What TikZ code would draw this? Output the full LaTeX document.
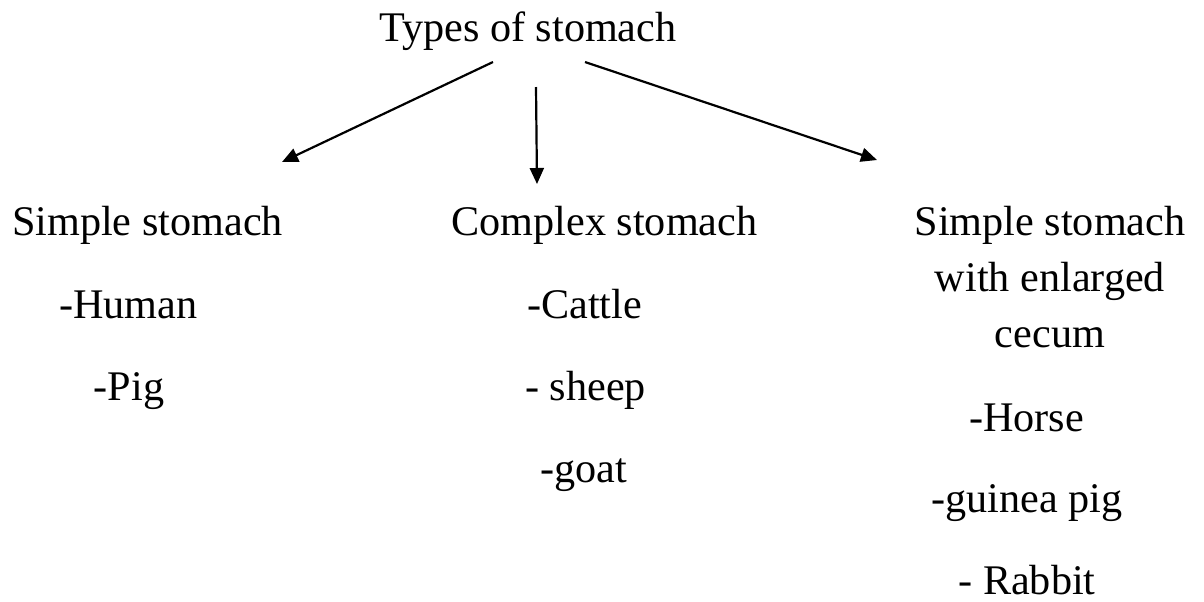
\documentclass[tikz,border=0pt]{standalone}
\usepackage{fontspec}
\setmainfont{Liberation Serif}
\usepackage{tikz}
\usetikzlibrary{positioning,arrows.meta}

\begin{document}
\begin{tikzpicture}[x=0.5pt,y=-0.5pt]
\tikzstyle{every node} = [inner sep = 0pt, anchor = base, font=\fontsize{21.1pt}{28pt}\selectfont];
\tikzstyle{arr} = [line width = 1.1pt, -{Triangle[length=8pt,width=7pt]}];
\useasboundingbox (0,0) rectangle (1204,601);
\node (T) at (528,41) {Types of stomach};
% heads
\node (S) at (147.5,235) {Simple stomach};
\node (C) at (604.5,235) {Complex stomach};
\node[anchor = north, align = center] (E) at (1050,206) {Simple stomach\\with enlarged\\cecum};
% animals
\node (S1) at (128.5,318) {-Human};
\node (S2) at (129,400) {-Pig};
\node (C1) at (584.5,318) {-Cattle};
\node (C2) at (585.5,400) {- sheep};
\node (C3) at (584,482) {-goat};
\node (E1) at (1026.5,431) {-Horse};
\node (E2) at (1027,512) {-guinea pig};
\node (E3) at (1027,594) {- Rabbit};
% arrow ends
\coordinate (a1) at (493,62);
\coordinate (b1) at (282,162);
\coordinate (a2) at (536,87);
\coordinate (b2) at (537,184);
\coordinate (a3) at (585,62);
\coordinate (b3) at (877,160);
\draw[arr] (a1) -- (b1);
\draw[arr] (a2) -- (b2);
\draw[arr] (a3) -- (b3);
\end{tikzpicture}
\end{document}
